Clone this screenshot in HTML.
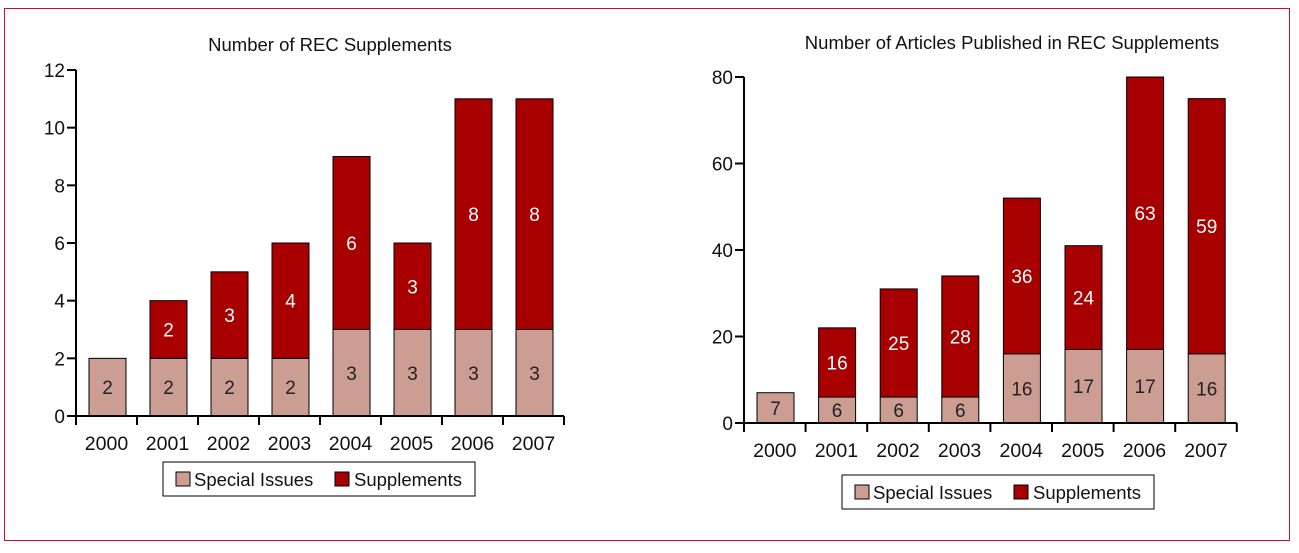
<!DOCTYPE html>
<html><head><meta charset="utf-8"><style>
body{margin:0;background:#fff;width:1299px;height:548px;overflow:hidden}
svg{font-family:"Liberation Sans",sans-serif}
</style></head><body>
<svg id="s" width="1299" height="548">
<rect x="4.5" y="8.5" width="1285" height="532" fill="none" stroke="#c8102e" stroke-width="1"/>
</svg>
<script>
const years=["2000","2001","2002","2003","2004","2005","2006","2007"];
const leftSpecial=[2,2,2,2,3,3,3,3];
const leftSupp=[0,2,3,4,6,3,8,8];
const leftTicks=[0,2,4,6,8,10,12];
const rightSpecial=[7,6,6,6,16,17,17,16];
const rightSupp=[0,16,25,28,36,24,63,59];
const rightTicks=[0,20,40,60,80];
const NS="http://www.w3.org/2000/svg";
const svg=document.getElementById('s');
function el(t,a,p){const e=document.createElementNS(NS,t);for(const k in a)e.setAttribute(k,a[k]);(p||svg).appendChild(e);return e;}
function chart(o){
  const g=el('g',{});
  
  
  const y=v=>o.y0-(v/o.max)*(o.y0-o.yTop);
  const step=o.step;
  const t=el('text',{x:o.titleX,y:o.titleY,'text-anchor':'middle','font-size':18.5,fill:'#111'},g);
  t.textContent=o.title;
  
  
  years.forEach((yr,i)=>{
    const x=o.x0+i*step+13, w=37;
    const sp=o.special[i], su=o.supp[i];
    const r1=el('rect',{x:x,y:y(sp),width:w,height:y(0)-y(sp),fill:'#cc9e93',stroke:'#000','stroke-width':1},g);
    
    
    const l1=el('text',{x:x+w/2,y:(y(0)+y(sp))/2+7,'text-anchor':'middle','font-size':19,fill:'#222'},g);
    l1.textContent=sp;
    
    
    if(su>0){
      const r2=el('rect',{x:x,y:y(sp+su),width:w,height:y(sp)-y(sp+su),fill:'#a80000',stroke:'#000','stroke-width':1},g);
      
      
      const l2=el('text',{x:x+w/2,y:(y(sp)+y(sp+su))/2+7,'text-anchor':'middle','font-size':19,fill:'#fff'},g);
      l2.textContent=su;
      
      
    }
    const xl=el('text',{x:o.x0+i*step+step/2,y:o.y0+34,'text-anchor':'middle','font-size':19.5,fill:'#111'},g);
    xl.textContent=yr;
    
    
  });
  for(let i=0;i<=years.length;i++){
    el('line',{x1:o.x0+i*step,x2:o.x0+i*step,y1:o.y0,y2:o.y0+9,stroke:'#000','stroke-width':2},g);
  }
  el('line',{x1:o.x0,x2:o.x0+years.length*step,y1:o.y0,y2:o.y0,stroke:'#000','stroke-width':2},g);
  el('line',{x1:o.x0,x2:o.x0,y1:o.yTop,y2:o.y0,stroke:'#000','stroke-width':2},g);
  o.ticks.forEach(v=>{
    el('line',{x1:o.x0-9,x2:o.x0,y1:y(v),y2:y(v),stroke:'#000','stroke-width':2},g);
    const tl=el('text',{x:o.x0-11,y:y(v)+7,'text-anchor':'end','font-size':19,fill:'#111'},g);
    tl.textContent=v;
    
    
  });
  const lg=el('g',{},g);
  
  
  el('rect',{x:o.lx,y:o.ly,width:312,height:34,fill:'#fff',stroke:'#000','stroke-width':1},lg);
  el('rect',{x:o.lx+13,y:o.ly+10,width:14,height:14,fill:'#cc9e93',stroke:'#000'},lg);
  const a=el('text',{x:o.lx+31,y:o.ly+24,'font-size':18.5,fill:'#111'},lg);a.textContent='Special Issues';
  
  
  el('rect',{x:o.lx+172,y:o.ly+10,width:14,height:14,fill:'#a80000',stroke:'#000'},lg);
  const b=el('text',{x:o.lx+191,y:o.ly+24,'font-size':18.5,fill:'#111'},lg);b.textContent='Supplements';
  
  
}
chart({name:'chart-rec-supplements',title:'Number of REC Supplements',titleX:330,titleY:51,x0:76,step:61,y0:416,yTop:70,max:12,ticks:leftTicks,special:leftSpecial,supp:leftSupp,lx:163,ly:462});
chart({name:'chart-articles-published',title:'Number of Articles Published in REC Supplements',titleX:1012,titleY:49,x0:744,step:61.6,y0:423,yTop:77,max:80,ticks:rightTicks,special:rightSpecial,supp:rightSupp,lx:842,ly:475});
</script>
</body></html>
